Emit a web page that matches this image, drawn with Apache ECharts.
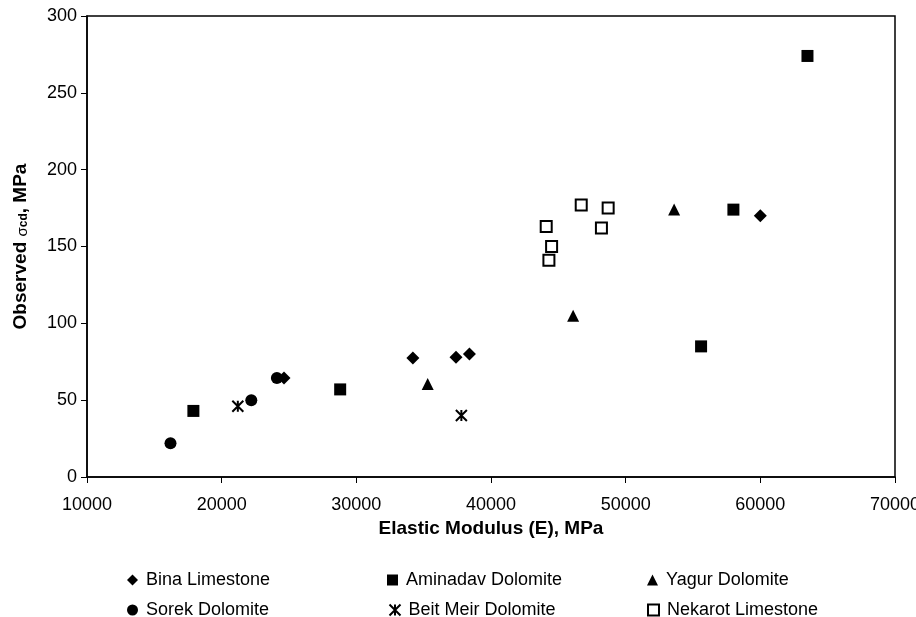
<!DOCTYPE html>
<html>
<head>
<meta charset="utf-8">
<script src="https://cdn.jsdelivr.net/npm/echarts@6/dist/echarts.min.js"></script>
<style>
  html, body { margin: 0; padding: 0; background: #fff; }
  #chart { width: 916px; height: 617px; }
</style>
</head>
<body>
<div id="chart"></div>
<script>
// values: [E (MPa), observed sigma_cd (MPa)]
var bina     = [[24630, 64.4], [34200, 77.4], [37400, 78], [38400, 80], [60000, 170]];
var aminadav = [[17900, 43], [28800, 57], [55600, 85], [58000, 174], [63500, 274]];
var yagur    = [[35300, 60.5], [46100, 105], [53600, 174]];
var sorek    = [[16200, 22], [24100, 64.4], [22200, 50]];
var beitMeir = [[21200, 46], [37800, 40]];
var nekarot  = [[44100, 163], [44500, 150], [44300, 141], [46700, 177], [48700, 175], [48200, 162]];

var starPath = 'path://M0,0L10,10M10,0L0,10M5,0L5,10';
var font = 'Liberation Sans, Arial, sans-serif';

var myChart = echarts.init(document.getElementById('chart'));

function legendItem(left, top, name, icon) {
    return {
        left: left,
        top: top,
        itemWidth: 11,
        itemHeight: 11,
        textStyle: { fontFamily: font, fontSize: 18, color: '#000', padding: [0, 0, 0, 3] },
        data: [{ name: name, icon: icon }]
    };
}

var option = {
    animation: false,
    textStyle: { fontFamily: font },
    grid: {
        left: 87, right: 21, top: 16, bottom: 140,
        outerBoundsMode: 'none',
        containLabel: false,
        show: true, borderColor: '#000', borderWidth: 1.5
    },
    legend: [
        legendItem(122, 566, 'Bina Limestone', 'diamond'),
        legendItem(122, 596, 'Sorek Dolomite', 'circle'),
        legendItem(382, 566, 'Aminadav Dolomite', 'rect'),
        legendItem(382, 596, 'Beit Meir Dolomite', starPath),
        legendItem(642, 566, 'Yagur Dolomite', 'triangle'),
        legendItem(642, 596, 'Nekarot Limestone', 'rect')
    ],
    xAxis: {
        type: 'value',
        min: 10000, max: 70000, interval: 10000,
        name: 'Elastic Modulus (E), MPa',
        nameLocation: 'middle',
        nameGap: 37,
        nameTextStyle: { fontFamily: font, fontSize: 19, fontWeight: 'bold', color: '#000' },
        axisLine: { lineStyle: { color: '#000', width: 1.5 } },
        axisTick: { show: true, length: 6, lineStyle: { color: '#000' } },
        axisLabel: {
            fontFamily: font, fontSize: 18, color: '#000', margin: 19,
            formatter: function (v) { return String(v); }
        },
        splitLine: { show: false }
    },
    yAxis: {
        type: 'value',
        min: 0, max: 300, interval: 50,
        name: '{b|Observed }{s|σ}{sub|cd}{b|, MPa}',
        nameLocation: 'middle',
        nameGap: 57,
        nameTextStyle: {
            rich: {
                b: { fontFamily: font, fontSize: 19, fontWeight: 'bold', color: '#000' },
                s: { fontFamily: font, fontSize: 15, color: '#000', padding: [4, 0, 0, 0] },
                sub: { fontFamily: font, fontSize: 12, fontWeight: 'bold', color: '#000', padding: [6, 0, 0, 0] }
            }
        },
        axisLine: { lineStyle: { color: '#000', width: 1.5 } },
        axisTick: { show: true, length: 6, lineStyle: { color: '#000' } },
        axisLabel: { fontFamily: font, fontSize: 18, color: '#000', margin: 10 },
        splitLine: { show: false }
    },
    series: [
        {
            name: 'Sorek Dolomite', type: 'scatter', data: sorek,
            symbol: 'circle', symbolSize: 12,
            itemStyle: { color: '#000', opacity: 1 }
        },
        {
            name: 'Bina Limestone', type: 'scatter', data: bina,
            symbol: 'diamond', symbolSize: 13,
            itemStyle: { color: '#000', opacity: 1 }
        },
        {
            name: 'Aminadav Dolomite', type: 'scatter', data: aminadav,
            symbol: 'rect', symbolSize: 12,
            itemStyle: { color: '#000', opacity: 1 }
        },
        {
            name: 'Yagur Dolomite', type: 'scatter', data: yagur,
            symbol: 'triangle', symbolSize: 12,
            itemStyle: { color: '#000', opacity: 1 }
        },
        {
            name: 'Beit Meir Dolomite', type: 'scatter', data: beitMeir,
            symbol: starPath, symbolSize: 11,
            itemStyle: { color: 'none', borderColor: '#000', borderWidth: 2, opacity: 1 }
        },
        {
            name: 'Nekarot Limestone', type: 'scatter', data: nekarot,
            symbol: 'rect', symbolSize: 11,
            itemStyle: { color: '#fff', borderColor: '#000', borderWidth: 2, opacity: 1 }
        }
    ]
};

myChart.setOption(option);
</script>
</body>
</html>
